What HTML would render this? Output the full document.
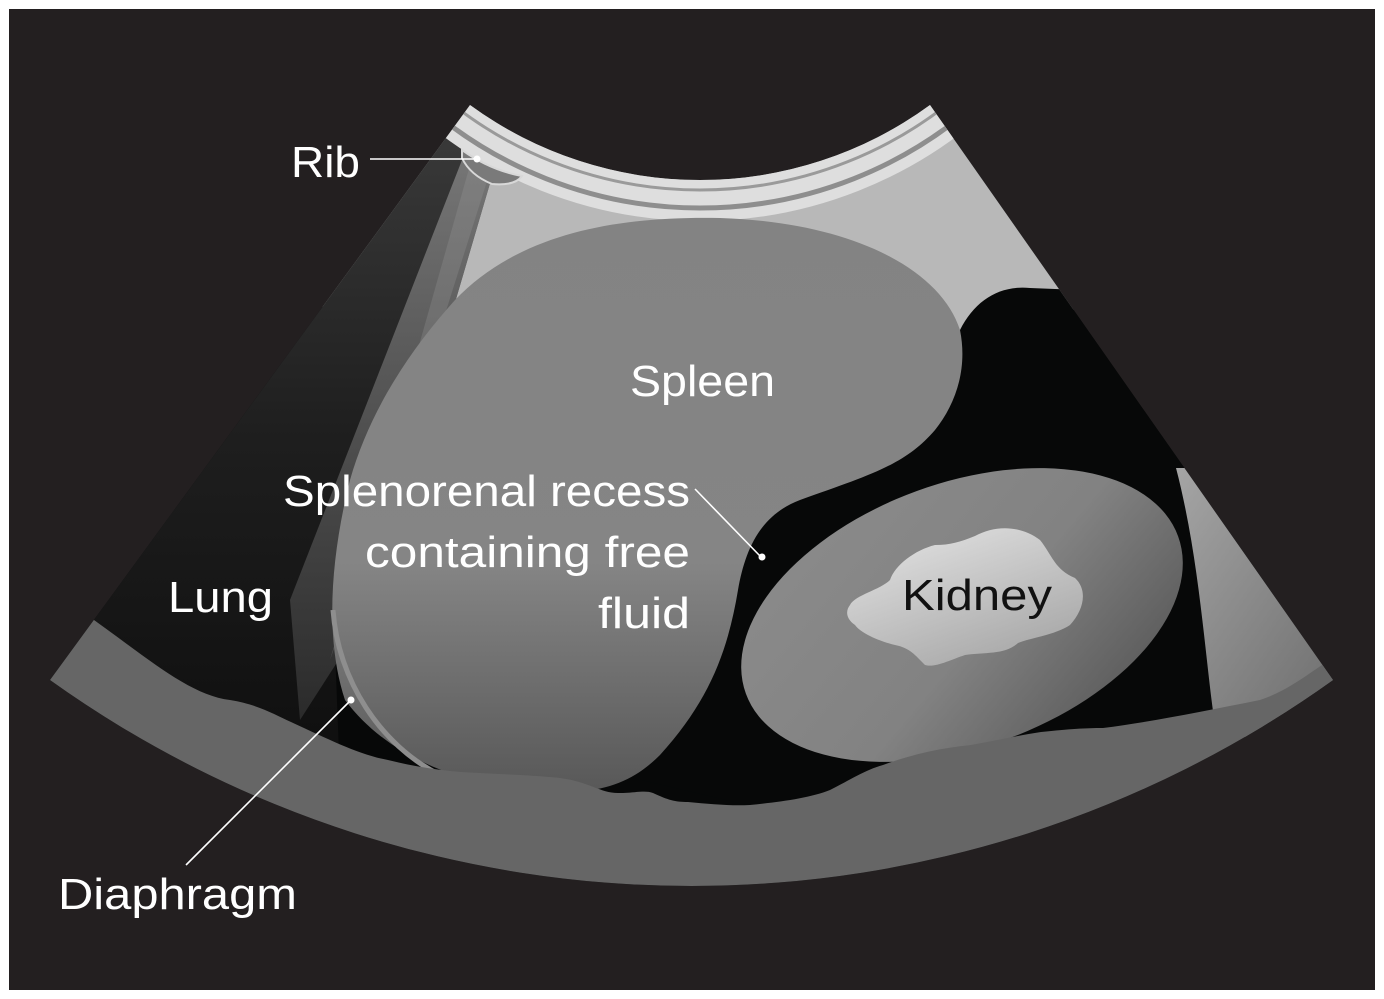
<!DOCTYPE html>
<html><head><meta charset="utf-8"><style>
html,body{margin:0;padding:0;background:#fff;}
svg{display:block;}
text{font-family:"Liberation Sans",sans-serif;}
</style></head><body>
<svg width="1384" height="999" viewBox="0 0 1384 999" xmlns="http://www.w3.org/2000/svg">
<defs>
<clipPath id="fan"><path d="M470,105 L50,680 A1102,1102 0 0 0 1333,680 L930,105 A390,390 0 0 1 470,105 Z"/></clipPath>
<linearGradient id="spl" x1="0" y1="0" x2="0" y2="1">
<stop offset="0" stop-color="#838383"/><stop offset="0.6" stop-color="#858585"/><stop offset="1" stop-color="#585858"/></linearGradient>
<linearGradient id="kid" x1="0" y1="0" x2="1" y2="1">
<stop offset="0" stop-color="#8c8c8c"/><stop offset="0.55" stop-color="#828282"/><stop offset="1" stop-color="#505050"/></linearGradient>
<linearGradient id="blob" x1="0" y1="0" x2="0.6" y2="1">
<stop offset="0" stop-color="#e6e6e6"/><stop offset="1" stop-color="#aaaaaa"/></linearGradient>
<linearGradient id="lung" x1="0" y1="0" x2="0" y2="1">
<stop offset="0" stop-color="#3c3c3c"/><stop offset="0.5" stop-color="#1e1e1e"/><stop offset="1" stop-color="#0e0e0e"/></linearGradient>
<linearGradient id="beam" x1="0" y1="0" x2="0" y2="1">
<stop offset="0" stop-color="#8a8a8a"/><stop offset="1" stop-color="#333333"/></linearGradient>
<linearGradient id="strip" x1="0" y1="0" x2="1" y2="1">
<stop offset="0" stop-color="#a5a5a5"/><stop offset="1" stop-color="#5a5a5a"/></linearGradient>
</defs>
<rect x="9" y="9" width="1366" height="981" fill="#231f20"/>
<g clip-path="url(#fan)">
<rect x="0" y="0" width="1384" height="999" fill="#070808"/>
<circle cx="700" cy="-210" r="640" fill="#b8b8b8"/>
<!-- lung dark -->
<path d="M470,100 L30,700 L340,780 L335,650 L397,500 L491,180 L478,150 Z" fill="url(#lung)"/>
<path d="M462,160 L491,180 L397,500 L345,650 L300,720 L290,600 Z" fill="url(#beam)" opacity="0.75"/>
<path d="M470,165 L488,178 L380,520 L330,660 Z" fill="#a0a0a0" opacity="0.25"/>
<!-- top bands -->
<circle cx="700" cy="-210" r="410" fill="none" stroke="#dedede" stroke-width="42"/>
<circle cx="700" cy="-210" r="400" fill="none" stroke="#9a9a9a" stroke-width="3"/>
<circle cx="700" cy="-210" r="418" fill="none" stroke="#8e8e8e" stroke-width="5"/>
<!-- rib -->
<path d="M462,150 Q490,170 522,176 Q515,186 492,184 Q470,175 462,158 Z" fill="#7a7a7a" stroke="#d8d8d8" stroke-width="2"/>
<!-- black fluid -->
<path d="M960,330 C975,300 1000,285 1030,288 L1080,290 L1300,520 L1260,730 L1100,730 L900,800 L760,808 L620,775 L700,700 L730,600 L760,520 L870,470 L940,420 Z" fill="#070808"/>
<!-- spleen -->
<path d="M455,300 C520,232 620,216 720,218 C850,222 940,268 960,330 C968,370 955,405 935,430 C905,465 870,475 800,500 C760,515 745,550 738,590 C728,650 710,700 660,755 C630,785 600,792 560,792 C470,790 390,760 345,700 C325,640 330,560 350,480 C370,410 410,350 455,300 Z" fill="url(#spl)"/>
<path d="M333,610 C338,680 380,745 440,775" fill="none" stroke="#8e8e8e" stroke-width="5"/>
<!-- right strip -->
<path d="M1176,468 L1400,468 L1400,800 L1215,725 C1205,660 1200,560 1176,468 Z" fill="url(#strip)"/>
<!-- kidney -->
<ellipse cx="962" cy="615" rx="230" ry="132" transform="rotate(-20 962 615)" fill="url(#kid)"/>
<path d="M850,605 C855,595 880,590 890,580 C895,565 915,550 935,545 C950,545 960,542 975,536 C995,525 1020,525 1040,540 C1052,555 1055,570 1075,578 C1088,590 1084,610 1070,625 C1055,635 1030,638 1018,643 C1005,655 985,652 965,655 C950,660 935,668 925,665 C915,655 910,648 895,645 C875,640 860,632 855,625 C845,618 846,610 850,605 Z" fill="url(#blob)"/>
<!-- bottom band -->
<path d="M30,600 L94,620 C150,660 190,695 230,700 C260,705 275,715 291,722 C330,740 360,755 388,760 C420,768 450,772 480,773 C520,775 540,776 560,778 C590,782 600,793 618,793 C635,793 645,790 653,793 C668,800 675,802 688,802 C710,804 730,806 750,805 C780,802 810,798 830,790 C850,780 865,770 883,765 C910,755 940,748 971,745 C1000,740 1020,735 1041,732 C1070,729 1085,728 1103,728 C1150,722 1200,712 1260,700 C1290,690 1310,672 1330,660 L1400,640 L1400,999 L0,999 Z" fill="#666666"/>
</g>
<!-- leaders -->
<g stroke="#fff" stroke-width="1.6" fill="none">
<line x1="370" y1="159" x2="476" y2="159"/>
<line x1="695" y1="489" x2="761" y2="557"/>
<line x1="186" y1="865" x2="351" y2="700"/>
</g>
<g fill="#fff">
<circle cx="477" cy="159" r="3.5"/>
<circle cx="762" cy="557" r="3.5"/>
<circle cx="351" cy="700" r="3.5"/>
</g>
<g fill="#fff" font-size="44">
<text x="291" y="177" textLength="69" lengthAdjust="spacingAndGlyphs">Rib</text>
<text x="630" y="396" textLength="145" lengthAdjust="spacingAndGlyphs">Spleen</text>
<text x="283" y="506" textLength="407" lengthAdjust="spacingAndGlyphs">Splenorenal recess</text>
<text x="365" y="567" textLength="325" lengthAdjust="spacingAndGlyphs">containing free</text>
<text x="598" y="628" textLength="92" lengthAdjust="spacingAndGlyphs">fluid</text>
<text x="168" y="612" textLength="105" lengthAdjust="spacingAndGlyphs">Lung</text>
<text x="58" y="909" textLength="239" lengthAdjust="spacingAndGlyphs">Diaphragm</text>
</g>
<text x="902" y="610" font-size="44" fill="#111" textLength="150" lengthAdjust="spacingAndGlyphs">Kidney</text>
</svg>
</body></html>
